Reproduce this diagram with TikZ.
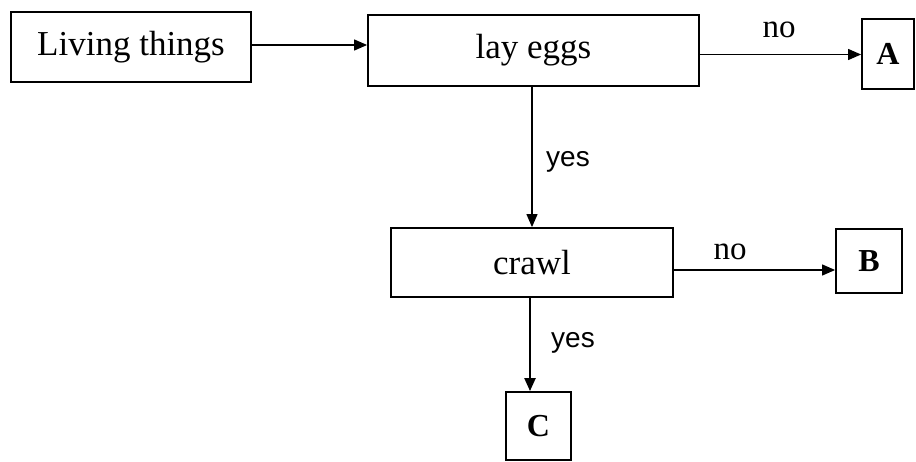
\documentclass[tikz,border=0pt]{standalone}
\usepackage{fontspec}
\setmainfont{Liberation Serif}
\newfontfamily\labsans{Liberation Sans}
\usetikzlibrary{arrows.meta}
\tikzset{
  box/.style={draw, line width=1.8pt, inner sep=0pt, anchor=center, font=\fontsize{35}{40}\selectfont},
  leaf/.style={box, font=\fontsize{32}{38}\selectfont\bfseries},
  conn/.style={line width=1.2pt, -{Triangle[length=13pt,width=11pt]}},
  yeslab/.style={font=\labsans\fontsize{28}{32}\selectfont, inner sep=0pt},
  nolab/.style={font=\fontsize{33}{38}\selectfont, inner sep=0pt},
}
\begin{document}
\begin{tikzpicture}[x=1pt,y=-1pt]
\useasboundingbox (0,0) rectangle (916,462);
\node[box, minimum width=240pt, minimum height=70pt] (lt) at (131,47) {Living things};
\node[box, minimum width=331pt, minimum height=71pt] (le) at (533.5,50.5) {lay eggs};
\node[leaf, minimum width=52pt, minimum height=70pt] (a) at (888,54) {A};
\node[box, minimum width=282pt, minimum height=69pt] (cr) at (532,262.5) {crawl};
\node[leaf, minimum width=66pt, minimum height=64pt] (b) at (869,261) {B};
\node[leaf, minimum width=65pt, minimum height=68pt] (c) at (538.5,426) {C};
\draw[conn] ([yshift=2pt]lt.east) -- ([yshift=2pt]lt.east -| le.west);
\draw[conn] ([yshift=-4pt]le.east) -- ([yshift=-4pt]le.east -| a.west);
\draw[conn] ([xshift=-1.5pt]le.south) -- ([xshift=-1.5pt]le.south |- cr.north);
\draw[conn] ([yshift=-7.5pt]cr.east) -- ([yshift=-7.5pt]cr.east -| b.west);
\draw[conn, line width=2.2pt] ([xshift=-2pt]cr.south) -- ([xshift=-2pt]cr.south |- c.north);
\node[nolab] (n1) at (779,30) {no};
\node[yeslab] (y1) at (568,162) {yes};
\node[nolab] (n2) at (730,252) {no};
\node[yeslab] (y2) at (573,343) {yes};
\end{tikzpicture}
\end{document}
